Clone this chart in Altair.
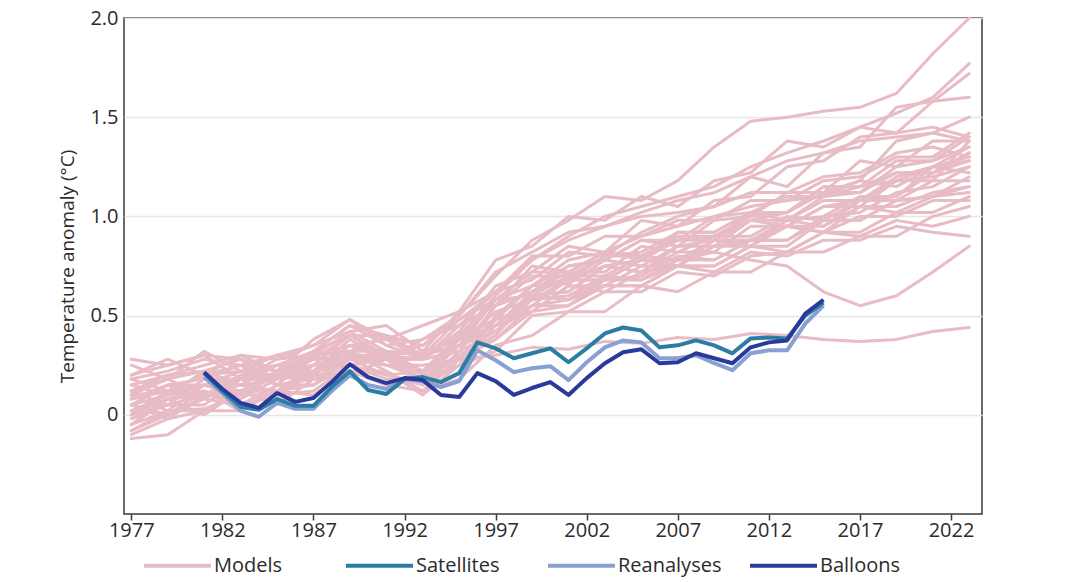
import altair as alt
import pandas as pd

# ---------------- data ----------------
model_years = [1977, 1979, 1981, 1983, 1985, 1987, 1989, 1991, 1993, 1995, 1997, 1999,
               2001, 2003, 2005, 2007, 2009, 2011, 2013, 2015, 2017, 2019, 2021, 2023]

model_runs = [
    [-0.05, 0.08, 0.15, 0.12, 0.22, 0.25, 0.40, 0.30, 0.35, 0.50, 0.70, 0.88, 0.98, 1.10, 1.08, 1.18, 1.35, 1.48, 1.50, 1.53, 1.55, 1.62, 1.82, 2.00],
    [0.12, 0.18, 0.22, 0.15, 0.25, 0.20, 0.32, 0.22, 0.12, 0.28, 0.30, 0.34, 0.33, 0.37, 0.36, 0.39, 0.38, 0.41, 0.40, 0.38, 0.37, 0.38, 0.42, 0.44],
    [0.05, 0.10, 0.15, 0.10, 0.20, 0.18, 0.28, 0.25, 0.18, 0.35, 0.42, 0.60, 0.58, 0.70, 0.68, 0.78, 0.82, 0.78, 0.75, 0.62, 0.55, 0.60, 0.72, 0.85],
    [0.28, 0.25, 0.30, 0.28, 0.22, 0.38, 0.48, 0.38, 0.45, 0.52, 0.78, 0.85, 1.00, 0.98, 1.10, 1.05, 1.18, 1.22, 1.38, 1.35, 1.45, 1.52, 1.60, 1.77],
    [0.00, 0.12, 0.20, 0.25, 0.15, 0.32, 0.45, 0.35, 0.28, 0.42, 0.65, 0.72, 0.85, 0.82, 0.98, 0.95, 1.08, 1.10, 1.25, 1.28, 1.40, 1.42, 1.58, 1.72],
    [0.15, 0.10, 0.22, 0.28, 0.15, 0.30, 0.35, 0.28, 0.38, 0.45, 0.62, 0.68, 0.82, 0.80, 0.92, 1.00, 1.05, 1.20, 1.15, 1.32, 1.35, 1.55, 1.58, 1.60],
    [-0.10, -0.02, 0.02, 0.12, 0.05, 0.18, 0.20, 0.28, 0.15, 0.30, 0.40, 0.60, 0.62, 0.75, 0.72, 0.85, 0.85, 0.98, 1.02, 1.12, 1.18, 1.38, 1.42, 1.50],
    [0.05, -0.02, 0.10, 0.15, 0.12, 0.22, 0.28, 0.32, 0.20, 0.38, 0.48, 0.65, 0.66, 0.78, 0.75, 0.85, 0.88, 1.02, 0.98, 1.10, 1.12, 1.25, 1.28, 1.40],
    [0.20, 0.25, 0.30, 0.18, 0.28, 0.30, 0.42, 0.32, 0.30, 0.35, 0.58, 0.65, 0.75, 0.78, 0.88, 0.85, 0.98, 1.00, 1.12, 1.12, 1.28, 1.25, 1.38, 1.38],
    [0.08, 0.15, 0.08, 0.18, 0.25, 0.22, 0.35, 0.28, 0.22, 0.35, 0.45, 0.62, 0.68, 0.75, 0.78, 0.88, 0.90, 0.98, 0.98, 1.08, 1.08, 1.20, 1.25, 1.35],
    [-0.05, 0.08, 0.12, 0.02, 0.15, 0.15, 0.28, 0.20, 0.22, 0.28, 0.48, 0.52, 0.65, 0.65, 0.75, 0.75, 0.85, 0.85, 0.98, 1.00, 1.10, 1.10, 1.22, 1.32],
    [0.12, 0.20, 0.22, 0.15, 0.18, 0.20, 0.30, 0.28, 0.28, 0.32, 0.55, 0.62, 0.72, 0.72, 0.85, 0.82, 0.90, 0.90, 1.00, 0.98, 1.08, 1.10, 1.25, 1.30],
    [0.02, 0.10, 0.15, 0.22, 0.15, 0.18, 0.22, 0.22, 0.12, 0.28, 0.38, 0.52, 0.55, 0.68, 0.68, 0.78, 0.78, 0.88, 0.88, 1.00, 1.02, 1.12, 1.15, 1.25],
    [0.18, 0.12, 0.15, 0.22, 0.20, 0.30, 0.32, 0.40, 0.28, 0.45, 0.55, 0.75, 0.72, 0.82, 0.78, 0.92, 0.92, 1.02, 1.02, 1.15, 1.15, 1.22, 1.22, 1.28],
    [-0.08, 0.02, 0.03, 0.10, 0.10, 0.22, 0.25, 0.28, 0.18, 0.30, 0.38, 0.55, 0.58, 0.65, 0.65, 0.75, 0.75, 0.85, 0.85, 0.98, 0.98, 1.08, 1.10, 1.20],
    [0.10, 0.02, 0.15, 0.12, 0.12, 0.15, 0.32, 0.25, 0.25, 0.28, 0.48, 0.55, 0.68, 0.68, 0.78, 0.75, 0.85, 0.88, 0.95, 0.92, 1.05, 1.05, 1.12, 1.15],
    [0.25, 0.18, 0.32, 0.22, 0.30, 0.28, 0.40, 0.30, 0.32, 0.38, 0.58, 0.60, 0.70, 0.70, 0.80, 0.78, 0.88, 0.88, 0.98, 0.95, 1.05, 1.02, 1.10, 1.12],
    [0.00, 0.08, 0.00, 0.12, 0.12, 0.20, 0.20, 0.22, 0.10, 0.25, 0.32, 0.50, 0.52, 0.62, 0.62, 0.72, 0.70, 0.80, 0.82, 0.92, 0.92, 1.02, 1.02, 1.10],
    [0.08, 0.12, 0.15, 0.10, 0.20, 0.20, 0.35, 0.32, 0.30, 0.35, 0.52, 0.58, 0.68, 0.68, 0.78, 0.78, 0.88, 0.85, 0.95, 0.92, 1.00, 1.00, 1.08, 1.08],
    [-0.12, -0.10, 0.02, 0.02, 0.12, 0.10, 0.22, 0.15, 0.12, 0.18, 0.35, 0.40, 0.52, 0.52, 0.65, 0.62, 0.72, 0.72, 0.82, 0.82, 0.90, 0.90, 1.00, 1.05],
    [0.05, 0.15, 0.18, 0.25, 0.22, 0.30, 0.32, 0.32, 0.22, 0.35, 0.42, 0.58, 0.60, 0.70, 0.68, 0.75, 0.75, 0.85, 0.82, 0.92, 0.90, 0.98, 0.95, 1.00],
    [0.15, 0.20, 0.25, 0.30, 0.22, 0.32, 0.40, 0.40, 0.30, 0.48, 0.58, 0.72, 0.72, 0.82, 0.80, 0.88, 0.88, 0.98, 0.95, 1.05, 1.05, 1.18, 1.18, 1.38],
    [-0.02, 0.05, 0.05, 0.18, 0.10, 0.22, 0.25, 0.28, 0.15, 0.32, 0.42, 0.55, 0.55, 0.65, 0.65, 0.75, 0.72, 0.82, 0.80, 0.88, 0.88, 0.95, 0.92, 0.90],
    [0.10, 0.18, 0.10, 0.20, 0.20, 0.28, 0.28, 0.30, 0.28, 0.40, 0.48, 0.65, 0.68, 0.80, 0.80, 0.90, 0.90, 1.00, 1.02, 1.12, 1.12, 1.22, 1.22, 1.32],
    [0.05, 0.00, 0.12, 0.05, 0.15, 0.15, 0.25, 0.18, 0.18, 0.25, 0.45, 0.52, 0.65, 0.62, 0.72, 0.75, 0.88, 0.88, 0.95, 0.95, 1.08, 1.08, 1.18, 1.18],
    [0.20, 0.28, 0.20, 0.30, 0.28, 0.35, 0.42, 0.45, 0.32, 0.52, 0.62, 0.80, 0.80, 0.90, 0.90, 0.98, 0.98, 1.08, 1.08, 1.18, 1.20, 1.30, 1.30, 1.42],
    [-0.05, 0.02, 0.02, 0.12, 0.12, 0.25, 0.28, 0.28, 0.18, 0.35, 0.45, 0.60, 0.62, 0.75, 0.72, 0.82, 0.82, 0.95, 0.95, 1.05, 1.08, 1.18, 1.20, 1.25],
    [0.12, 0.05, 0.18, 0.18, 0.20, 0.22, 0.38, 0.28, 0.28, 0.32, 0.55, 0.62, 0.75, 0.78, 0.88, 0.88, 1.00, 1.02, 1.10, 1.10, 1.18, 1.15, 1.25, 1.28],
    [0.02, 0.08, 0.10, 0.18, 0.18, 0.28, 0.30, 0.30, 0.22, 0.38, 0.45, 0.60, 0.58, 0.68, 0.70, 0.80, 0.78, 0.88, 0.88, 0.98, 0.98, 1.08, 1.10, 1.15],
    [0.08, 0.15, 0.15, 0.18, 0.18, 0.30, 0.35, 0.38, 0.28, 0.45, 0.55, 0.70, 0.70, 0.80, 0.82, 0.92, 0.92, 1.02, 1.02, 1.15, 1.15, 1.28, 1.28, 1.35],
    [0.00, 0.05, 0.10, 0.08, 0.18, 0.25, 0.30, 0.25, 0.22, 0.40, 0.60, 0.78, 0.88, 0.95, 1.02, 1.08, 1.12, 1.20, 1.28, 1.32, 1.38, 1.40, 1.42, 1.38],
    [0.18, 0.22, 0.28, 0.25, 0.30, 0.35, 0.48, 0.35, 0.38, 0.50, 0.72, 0.82, 0.92, 0.95, 1.00, 1.02, 1.05, 1.12, 1.12, 1.20, 1.22, 1.32, 1.35, 1.30],
    [-0.08, 0.00, 0.08, 0.05, 0.10, 0.12, 0.25, 0.20, 0.15, 0.25, 0.50, 0.65, 0.78, 0.82, 0.90, 0.95, 1.00, 1.05, 1.08, 1.10, 1.15, 1.18, 1.25, 1.22],
    [0.10, 0.12, 0.20, 0.22, 0.25, 0.32, 0.45, 0.40, 0.35, 0.48, 0.62, 0.78, 0.90, 1.00, 1.05, 1.10, 1.15, 1.25, 1.32, 1.38, 1.45, 1.42, 1.45, 1.40],
]

obs_years = list(range(1981, 2016))

satellites = [0.21, 0.12, 0.04, 0.025, 0.08, 0.045, 0.045, 0.14, 0.22, 0.125, 0.105, 0.18,
              0.19, 0.165, 0.21, 0.365, 0.335, 0.285, 0.31, 0.335, 0.265, 0.335, 0.41, 0.44,
              0.425, 0.34, 0.35, 0.375, 0.35, 0.31, 0.385, 0.39, 0.385, 0.50, 0.565]

reanalyses = [0.19, 0.11, 0.02, -0.01, 0.06, 0.03, 0.03, 0.12, 0.20, 0.15, 0.13, 0.18,
              0.17, 0.14, 0.17, 0.325, 0.275, 0.215, 0.235, 0.245, 0.175, 0.265, 0.34, 0.375,
              0.365, 0.285, 0.285, 0.30, 0.26, 0.225, 0.31, 0.325, 0.325, 0.46, 0.55]

balloons = [0.215, 0.13, 0.06, 0.035, 0.11, 0.065, 0.085, 0.165, 0.255, 0.19, 0.16, 0.185,
            0.175, 0.10, 0.09, 0.21, 0.17, 0.10, 0.135, 0.165, 0.10, 0.185, 0.26, 0.315,
            0.33, 0.26, 0.265, 0.31, 0.285, 0.26, 0.34, 0.365, 0.375, 0.51, 0.58]

series_names = ["Models", "Satellites", "Reanalyses", "Balloons"]
series_colors = ["#e8bcc5", "#2c7da3", "#8a9fd2", "#2a3a9c"]

x_ticks = [1977, 1982, 1987, 1992, 1997, 2002, 2007, 2012, 2017, 2022]
y_ticks = [0, 0.5, 1.0, 1.5, 2.0]

# ---------------- tables ----------------
rows = []
for i, run in enumerate(model_runs):
    for yr, v in zip(model_years, run):
        rows.append({"year": yr, "value": v, "series": "Models", "run": f"m{i}"})
models_df = pd.DataFrame(rows)


def obs_df(name, vals):
    return pd.DataFrame({"year": obs_years, "value": vals, "series": name, "run": name})


FONT = "Open Sans"
TXT = "#2b2b2b"

x_enc = alt.X("year:Q",
              scale=alt.Scale(domain=[1976.6, 2023.7], nice=False, zero=False),
              axis=alt.Axis(values=x_ticks, format="d", grid=False, ticks=True,
                            tickSize=6, tickColor="#3a3a3a", tickWidth=1.5,
                            domain=False, labelFontSize=20, labelFont=FONT,
                            labelColor=TXT, labelPadding=0, title=None,
                            labelFlush=False, labelOverlap=False))
y_enc = alt.Y("value:Q",
              scale=alt.Scale(domain=[-0.5, 2.0], nice=False, zero=False),
              axis=alt.Axis(values=y_ticks, grid=True, gridColor="#e6e6e6", gridWidth=1.5,
                            ticks=False, domain=False,
                            labelExpr="datum.value == 0 ? '0' : format(datum.value, '.1f')",
                            labelFontSize=20, labelFont=FONT, labelColor=TXT,
                            labelPadding=6, title="Temperature anomaly (°C)",
                            titleFontSize=19, titleFont=FONT, titleColor=TXT,
                            titleFontWeight="normal", titlePadding=12,
                            labelFlush=False, labelOverlap=False))

color_enc = alt.Color(
    "series:N",
    scale=alt.Scale(domain=series_names, range=series_colors),
    legend=alt.Legend(
        title=None, orient="none", legendX=18, legendY=512, direction="horizontal",
        columns=4, gridAlign="all", columnPadding=20, padding=0,
        symbolType="stroke", symbolSize=4489, symbolStrokeWidth=4,
        labelFontSize=20, labelFont=FONT, labelColor=TXT, labelOffset=1,
    ),
)

base_enc = dict(x=x_enc, y=y_enc, color=color_enc, detail="run:N")

models = alt.Chart(models_df).mark_line(strokeWidth=3, strokeJoin="round", strokeCap="round").encode(**base_enc)
rean = alt.Chart(obs_df("Reanalyses", reanalyses)).mark_line(strokeWidth=4, strokeJoin="round").encode(**base_enc)
sat = alt.Chart(obs_df("Satellites", satellites)).mark_line(strokeWidth=4, strokeJoin="round").encode(**base_enc)
bal = alt.Chart(obs_df("Balloons", balloons)).mark_line(strokeWidth=4, strokeJoin="round").encode(**base_enc)

chart = (
    alt.layer(models, rean, sat, bal)
    .properties(
        width=858, height=496,
        background="white",
        autosize=alt.AutoSizeParams(type="none"),
        padding={"left": 116, "top": 10, "right": 60, "bottom": 68},
    )
    .configure_view(stroke="#3a3a3a", strokeWidth=1.5)
)

chart.save("out.html", embed_options={"renderer": "svg", "actions": False})
